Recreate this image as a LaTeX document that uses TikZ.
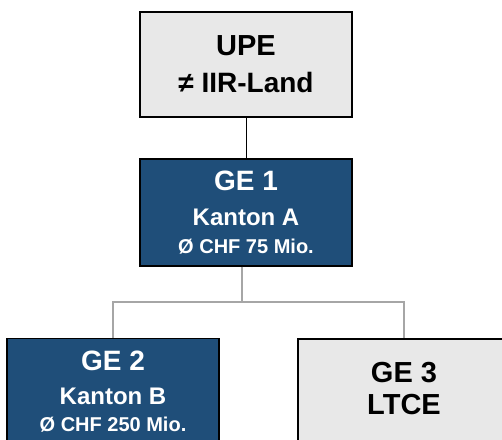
\documentclass[tikz,border=0pt]{standalone}
\usepackage{fontspec}
\setmainfont{Liberation Sans}
\usetikzlibrary{positioning}
\definecolor{dunkelblau}{HTML}{1F4E79}
\definecolor{hellgrau}{HTML}{E8E8E8}
\definecolor{liniengrau}{HTML}{A6A6A6}
\tikzset{
  grau/.style={draw=black,line width=1.3pt,fill=hellgrau,minimum width=212pt,inner sep=0pt,
               align=center,font=\bfseries},
  blau/.style={draw=black,line width=1.3pt,fill=dunkelblau,text=white,minimum width=212pt,
               inner sep=0pt,align=center,font=\bfseries},
  linie/.style={line width=1pt},
  glinie/.style={draw=liniengrau,line width=1.5pt},
}
\begin{document}
\begin{tikzpicture}[x=1pt,y=-1pt]
  \useasboundingbox (0,0) rectangle (502,439);
  \clip (0,0) rectangle (502,439);
  \node[grau,minimum height=105pt,font=\bfseries\fontsize{29}{37}\selectfont] (upe) at (246,64.5)
    {UPE\\ {\fontsize{28}{37}\selectfont ≠ IIR-Land}};
  \node[blau,minimum height=107pt,font=\bfseries\fontsize{28}{35}\selectfont] (ge1) at (246,212.5)
    {GE 1\\ {\fontsize{24}{35}\selectfont Kanton A}\\[-7pt]
     {\fontsize{20}{35}\selectfont Ø CHF 75 Mio.}};
  \node[blau,minimum height=107pt,font=\bfseries\fontsize{28}{34}\selectfont] (ge2) at (113,392)
    {GE 2\\ {\fontsize{24}{34}\selectfont Kanton B}\\[-7pt]
     {\fontsize{20}{34}\selectfont Ø CHF 250 Mio.}};
  \node[grau,minimum height=107pt,font=\bfseries\fontsize{29}{32}\selectfont] (ge3) at (404,392.5)
    {GE 3\\ LTCE\\[-24pt] \mbox{}};
  \coordinate (gabel) at (242,302);
  \draw[linie] (upe) -- (ge1);
  \draw[glinie] (ge1.south -| gabel) -- (gabel);
  \draw[glinie] (gabel) -| (ge2.north);
  \draw[glinie] (gabel) -| (ge3.north);
\end{tikzpicture}
\end{document}
